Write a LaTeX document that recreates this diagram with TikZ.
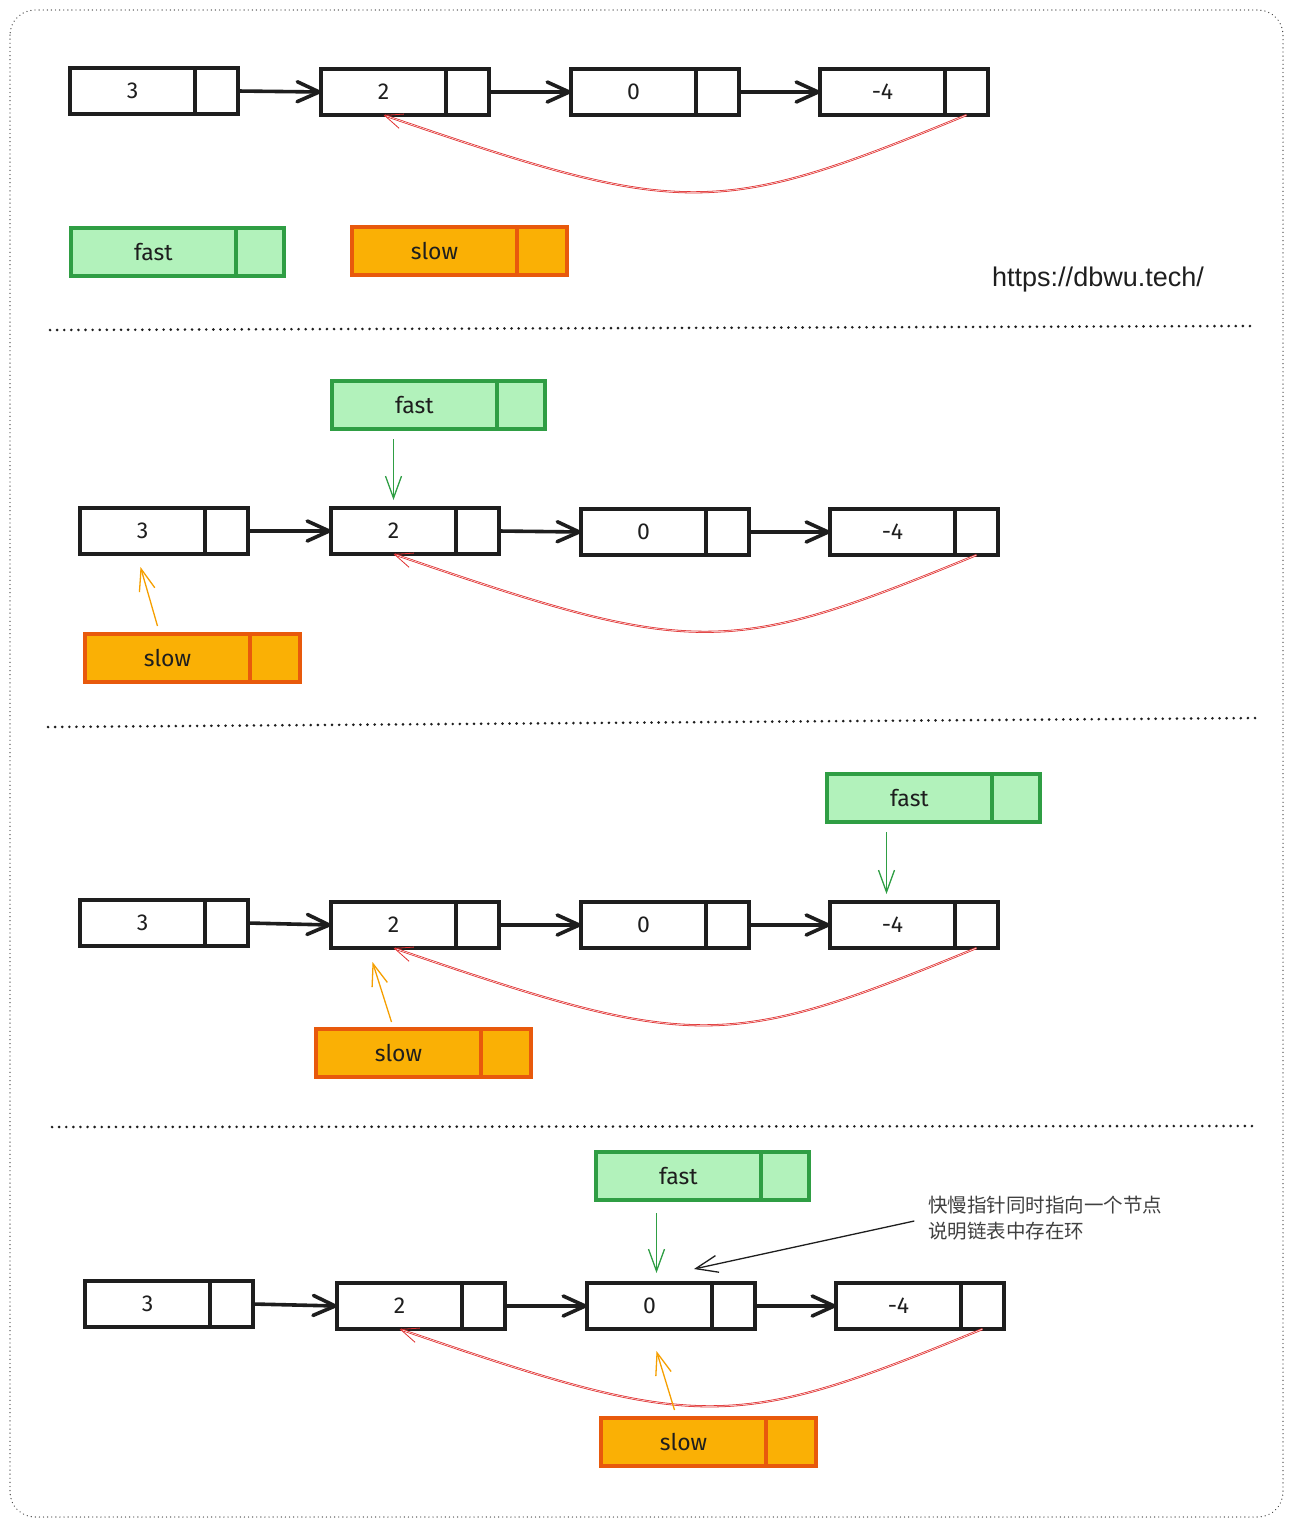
\documentclass[tikz,border=0pt]{standalone}
\usepackage{fontspec}
\newfontfamily\hand{Fira Sans}
\newfontfamily\cjk{Noto Sans CJK SC}
\newfontfamily\webfont{Liberation Sans}
\usetikzlibrary{positioning,calc,arrows.meta}
\definecolor{ink}{HTML}{1E1E1E}
\definecolor{fastfill}{HTML}{B2F2BB}
\definecolor{fastline}{HTML}{2F9E44}
\definecolor{slowfill}{HTML}{FAB005}
\definecolor{slowline}{HTML}{E8590C}
\definecolor{slowarrow}{HTML}{F59F00}
\definecolor{loopred}{HTML}{E03131}
\tikzset{
  val/.style={draw=ink,line width=3.6pt,outer sep=0pt,anchor=north west,minimum width=125pt,minimum height=46pt,text=ink,font=\hand\fontsize{23}{26}\selectfont},
  ptr/.style={draw=ink,line width=3.6pt,outer sep=0pt,minimum width=43pt,minimum height=46pt},
  fastval/.style={val,draw=fastline,fill=fastfill,minimum width=165pt,minimum height=48pt},
  fastptr/.style={ptr,draw=fastline,fill=fastfill,minimum width=48pt,minimum height=48pt},
  slowval/.style={val,draw=slowline,fill=slowfill,minimum width=165pt,minimum height=48pt},
  slowptr/.style={ptr,draw=slowline,fill=slowfill,minimum width=50pt,minimum height=48pt},
  nxt/.style={-{Straight Barb[length=22pt,width=20pt,round]},ink,line width=3.6pt},
  backlink/.style={-{Straight Barb[length=18pt,width=15pt]},loopred,line width=0.8pt,double=white,double distance=0.5pt},
  fastarr/.style={-{Straight Barb[length=22pt,width=16pt]},fastline,line width=1.3pt},
  slowarr/.style={-{Straight Barb[length=22pt,width=16pt]},slowarrow,line width=1.3pt},
  notearr/.style={-{Straight Barb[length=22pt,width=17pt]},ink,line width=1.3pt},
  sep/.style={ink,line width=2.8pt,dash pattern=on 0.1pt off 7pt,line cap=round}
}
\begin{document}
\begin{tikzpicture}[x=1pt,y=-1pt]
    \useasboundingbox (0,0) rectangle (1293,1527);
    \draw [ink!80,line width=1.3pt,dash pattern=on 0.1pt off 4pt,line cap=round,rounded corners=25pt] (10,10) rectangle (1283,1517);

    % first state
    \node[val] (n11) at (70,68) {3};   \node[ptr,right=0pt of n11] (p11) {};
    \node[val] (n12) at (321,69) {2};  \node[ptr,right=0pt of n12] (p12) {};
    \node[val] (n13) at (571,69) {0};  \node[ptr,right=0pt of n13] (p13) {};
    \node[val] (n14) at (820,69) {-4}; \node[ptr,right=0pt of n14] (p14) {};
    \node[fastval] (f1) at (71,228) {fast};  \node[fastptr,right=0pt of f1] (fp1) {};
    \node[slowval] (s1) at (352,227) {slow}; \node[slowptr,right=0pt of s1] (sp1) {};
    \node[text=ink,font=\webfont\fontsize{27}{30}\selectfont] (site) at (1098,280) {https://dbwu.tech/};

    \draw [nxt] (p11.east) -- (n12.west);
    \draw [nxt] (p12.east) -- (n13.west);
    \draw [nxt] (p13.east) -- (n14.west);
    \draw [backlink] (p14.south) .. controls +(-250,103) and +(300,103) .. (n12.south);

    \draw [sep] (50,330) -- (1250,326);

    % second state
    \node[fastval] (f2) at (332,381) {fast}; \node[fastptr,right=0pt of f2] (fp2) {};
    \node[val] (n21) at (80,508) {3};   \node[ptr,right=0pt of n21] (p21) {};
    \node[val] (n22) at (331,508) {2};  \node[ptr,right=0pt of n22] (p22) {};
    \node[val] (n23) at (581,509) {0};  \node[ptr,right=0pt of n23] (p23) {};
    \node[val] (n24) at (830,509) {-4}; \node[ptr,right=0pt of n24] (p24) {};
    \node[slowval] (s2) at (85,634) {slow};  \node[slowptr,right=0pt of s2] (sp2) {};

    \draw [nxt] (p21.east) -- (n22.west);
    \draw [nxt] (p22.east) -- (n23.west);
    \draw [nxt] (p23.east) -- (n24.west);
    \draw [backlink] (p24.south) .. controls +(-250,103) and +(300,103) .. (n22.south);
    \draw [fastarr] ($(f2.south -| n22.north)+(0,10)$) -- ($(n22.north)+(0,-8)$);
    \draw [slowarr] ($(s2.north)+(-10,-8)$) -- ($(n21.south)+(-2,13)$);

    \draw [sep] (48,727) -- (1258,718);

    % third state
    \node[fastval] (f3) at (827,774) {fast}; \node[fastptr,right=0pt of f3] (fp3) {};
    \node[val] (n31) at (80,900) {3};   \node[ptr,right=0pt of n31] (p31) {};
    \node[val] (n32) at (331,902) {2};  \node[ptr,right=0pt of n32] (p32) {};
    \node[val] (n33) at (581,902) {0};  \node[ptr,right=0pt of n33] (p33) {};
    \node[val] (n34) at (830,902) {-4}; \node[ptr,right=0pt of n34] (p34) {};
    \node[slowval] (s3) at (316,1029) {slow}; \node[slowptr,right=0pt of s3] (sp3) {};

    \draw [nxt] (p31.east) -- (n32.west);
    \draw [nxt] (p32.east) -- (n33.west);
    \draw [nxt] (p33.east) -- (n34.west);
    \draw [backlink] (p34.south) .. controls +(-250,103) and +(300,103) .. (n32.south);
    \draw [fastarr] ($(f3.south -| n34.north)+(-6,10)$) -- ($(n34.north)+(-6,-8)$);
    \draw [slowarr] ($(s3.north)+(-7,-7)$) -- ($(n32.south)+(-21,14)$);

    \draw [sep] (52,1127) -- (1255,1126);

    % fourth state
    \node[fastval] (f4) at (596,1152) {fast}; \node[fastptr,right=0pt of f4] (fp4) {};
    \node[val] (n41) at (85,1281) {3};   \node[ptr,right=0pt of n41] (p41) {};
    \node[val] (n42) at (337,1283) {2};  \node[ptr,right=0pt of n42] (p42) {};
    \node[val] (n43) at (587,1283) {0};  \node[ptr,right=0pt of n43] (p43) {};
    \node[val] (n44) at (836,1283) {-4}; \node[ptr,right=0pt of n44] (p44) {};
    \node[slowval] (s4) at (601,1418) {slow}; \node[slowptr,right=0pt of s4] (sp4) {};
    \node[anchor=west,inner sep=0pt,align=left,text=ink!85,font=\cjk\fontsize{19.5}{26}\selectfont] (note) at (928,1218)
        {快慢指针同时指向一个节点\\说明链表中存在环};
    \coordinate (meet) at (694,1269);

    \draw [nxt] (p41.east) -- (n42.west);
    \draw [nxt] (p42.east) -- (n43.west);
    \draw [nxt] (p43.east) -- (n44.west);
    \draw [backlink] (p44.south) .. controls +(-250,103) and +(300,103) .. (n42.south);
    \draw [fastarr] ($(f4.south -| n43.north)+(7,13)$) -- ($(n43.north)+(7,-10)$);
    \draw [slowarr] ($(s4.north)+(-9,-8)$) -- ($(n43.south)+(7,22)$);
    \draw [notearr,shorten <=14pt] (note.west) -- (meet);
\end{tikzpicture}
\end{document}
